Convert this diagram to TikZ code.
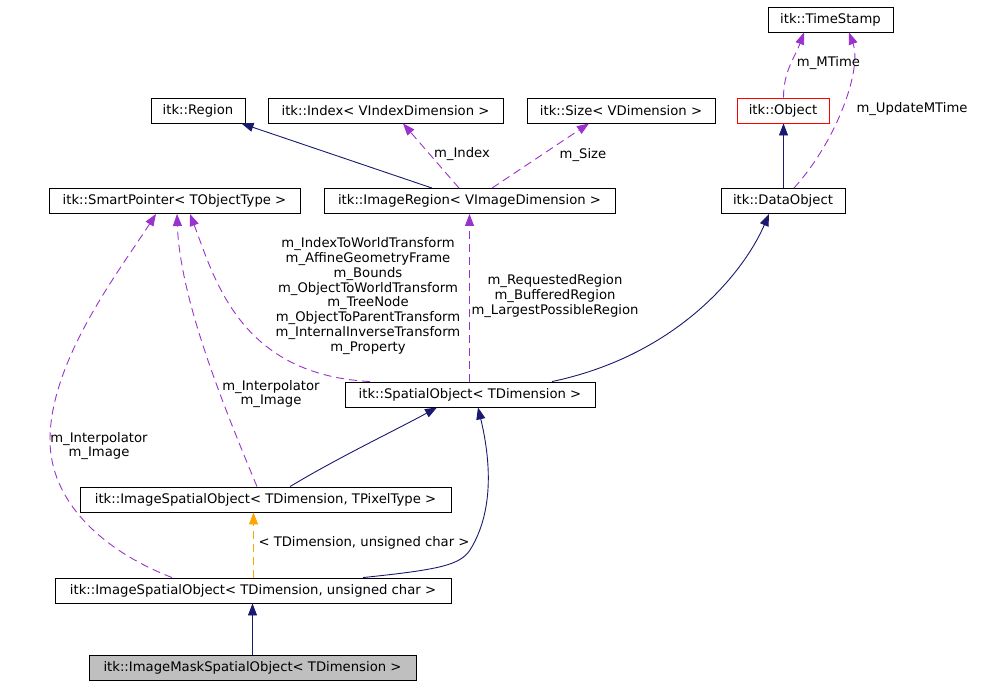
\documentclass[tikz,border=0pt]{standalone}
\usepackage{fontspec}
\setmainfont{DejaVu Sans}
\usetikzlibrary{positioning,arrows.meta}

\definecolor{inhcol}{HTML}{191970}
\definecolor{usecol}{HTML}{9A32CD}
\definecolor{tplcol}{HTML}{FFA500}

\tikzset{
  cls/.style={draw=black, line width=0.9pt, fill=white, inner xsep=0pt, inner ysep=0pt,
    minimum height=25pt, font=\fontsize{13.2}{15}\selectfont},
  inh/.style={draw=inhcol, line width=0.9pt, -{Triangle[length=12pt,width=9pt]}},
  use/.style={draw=usecol, line width=0.9pt, dash pattern=on 8pt off 5pt, -{Triangle[length=12pt,width=9pt]}},
  tpl/.style={draw=tplcol, line width=0.9pt, dash pattern=on 8pt off 5pt, -{Triangle[length=12pt,width=9pt]}},
  lbl/.style={align=center, inner sep=0pt, font=\fontsize{13.2}{14.8}\selectfont}
}

\begin{document}
\begin{tikzpicture}[x=1pt,y=-1pt]
\useasboundingbox (0,0) rectangle (996,685);

% classes
\node[cls, minimum width=125pt] (ts) at (830.5,19.5) {itk::TimeStamp};
\node[cls, minimum width=94pt] (reg) at (198,110.5) {itk::Region};
\node[cls, minimum width=235pt] (idx) at (385.5,110.5) {itk::Index< VIndexDimension >};
\node[cls, minimum width=188pt] (sz) at (621,110.5) {itk::Size< VDimension >};
\node[cls, minimum width=92pt, draw=red] (obj) at (783,110.5) {itk::Object};
\node[cls, minimum width=251pt] (sp) at (174.5,201) {itk::SmartPointer< TObjectType >};
\node[cls, minimum width=291pt] (irg) at (469.5,201) {itk::ImageRegion< VImageDimension >};
\node[cls, minimum width=124pt] (dobj) at (783,201) {itk::DataObject};
\node[cls, minimum width=250pt] (so) at (470,394.5) {itk::SpatialObject< TDimension >};
\node[cls, minimum width=371pt] (isop) at (265.5,499.5) {itk::ImageSpatialObject< TDimension, TPixelType >};
\node[cls, minimum width=396pt] (isou) at (253,590.5) {itk::ImageSpatialObject< TDimension, unsigned char >};
\node[cls, minimum width=327pt, fill=black!25] (mask) at (252.5,667.5) {itk::ImageMaskSpatialObject< TDimension >};

% inheritance
\draw[inh] ([xshift=-37.5pt]irg.north) -- ([xshift=-4pt]reg.south east);
\draw[inh] ([xshift=0.5pt]dobj.north) -- ([xshift=0.5pt]obj.south);
\draw[inh] ([xshift=82pt]so.north) .. controls +(128,-27) and +(-24,56) .. ([xshift=-14pt]dobj.south);
\draw[inh] ([xshift=24.5pt]isop.north) .. controls +(50,-30) and +(-40,22) .. ([xshift=-33pt]so.south);
\draw[inh] ([xshift=110pt]isou.north) .. controls +(77,-8) and +(-10,15) .. (470,550)
  .. controls +(25,-40) and +(12,50) .. ([xshift=8pt]so.south);
\draw[inh] (mask.north) -- ([xshift=-0.5pt]isou.south);

% usage
\draw[use] ([xshift=0.5pt]obj.north) to[out=90, in=-110] ([xshift=-26.5pt]ts.south);
\draw[use] ([xshift=11pt]dobj.north) .. controls +(44,-49) and +(13,36) .. ([xshift=18.5pt]ts.south);
\draw[use] ([xshift=-10.5pt]irg.north) -- ([xshift=17.5pt]idx.south);
\draw[use] ([xshift=22.5pt]irg.north) -- ([xshift=-32pt]sz.south);
\draw[use] ([xshift=-0.5pt]so.north) -- (irg.south);
\draw[use] ([xshift=-100pt]so.north) .. controls +(-130,-7) and +(25,66) .. ([xshift=15.5pt]sp.south);
\draw[use] ([xshift=-8.5pt]isop.north) .. controls +(-32,-77) and +(3,86) .. ([xshift=2.5pt]sp.south);
\draw[use] ([xshift=-81pt]isou.north) .. controls +(-72,-28) and +(0,60) .. (50,440)
  .. controls +(0,-80) and +(-36,56) .. ([xshift=-18.5pt]sp.south);
\draw[tpl] ([xshift=0.5pt]isou.north) -- ([xshift=-12pt]isop.south);

% labels
\node[lbl] (lmt) at (828.5,63) {m\_MTime};
\node[lbl] (lumt) at (912,109) {m\_UpdateMTime};
\node[lbl] (lidx) at (462,154) {m\_Index};
\node[lbl] (lsz) at (583,155) {m\_Size};
\node[lbl] (lreg) at (555,296) {m\_RequestedRegion\\m\_BufferedRegion\\m\_LargestPossibleRegion};
\node[lbl] (lso) at (368,296) {m\_IndexToWorldTransform\\m\_AffineGeometryFrame\\m\_Bounds\\m\_ObjectToWorldTransform\\m\_TreeNode\\m\_ObjectToParentTransform\\m\_InternalInverseTransform\\m\_Property};
\node[lbl] (lisop) at (271,394) {m\_Interpolator\\m\_Image};
\node[lbl] (lisou) at (99,446) {m\_Interpolator\\m\_Image};
\node[lbl] (ltpl) at (364,543) {< TDimension, unsigned char >};
\end{tikzpicture}
\end{document}
